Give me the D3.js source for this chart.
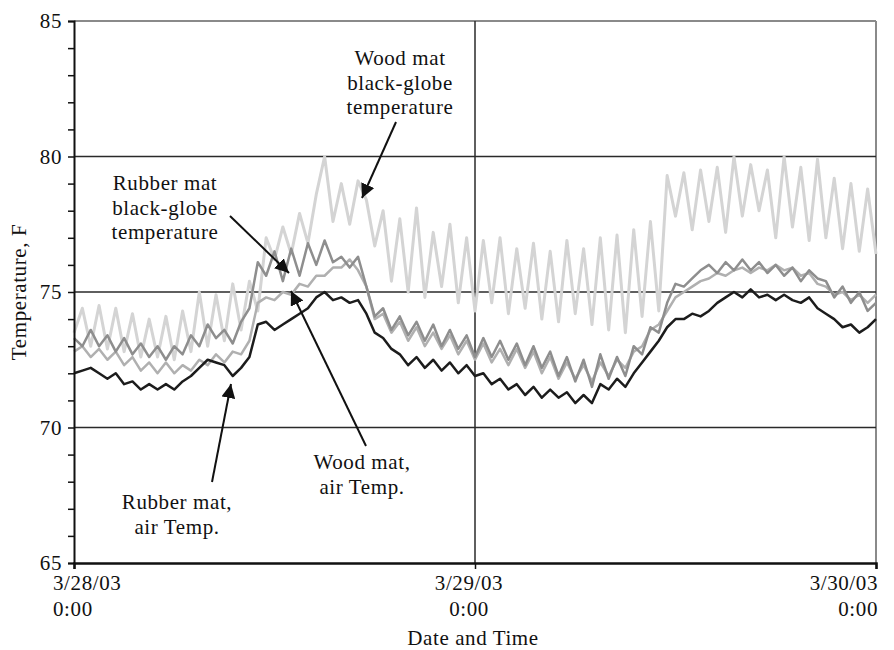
<!DOCTYPE html>
<html>
<head>
<meta charset="utf-8">
<script src="https://cdn.jsdelivr.net/npm/d3@7"></script>
<style>
  body { margin: 0; background: #fff; }
  text { font-family: "Liberation Serif", "DejaVu Serif", serif; fill: #111; letter-spacing: 0.6px; }
</style>
</head>
<body>
<svg id="chart" width="894" height="650"></svg>
<script>
// half-hourly readings, 3/28/03 0:00 to 3/30/03 0:00 (97 points each)
const woodGlobe = [73.5,74.4,73.0,74.5,72.9,74.4,72.8,74.2,72.6,74.0,72.6,74.1,72.5,74.3,72.8,75.0,73.0,74.9,73.2,75.3,
  73.6,75.4,74.3,77.0,76.2,77.4,76.4,77.9,76.8,78.6,80.0,77.6,79.0,77.5,79.1,78.4,76.7,78.0,75.4,77.7,
  75.0,78.1,74.8,77.2,75.2,77.5,74.6,77.0,74.3,76.9,74.6,77.0,74.2,76.6,74.4,76.8,74.0,76.5,73.9,76.9,
  74.2,76.6,73.8,77.0,73.6,77.1,73.5,77.3,74.1,77.6,74.3,79.3,77.8,79.4,77.3,79.5,77.6,79.6,77.2,80.0,
  77.8,79.7,78.0,79.5,77.0,80.0,77.4,79.6,76.9,79.9,77.0,79.2,76.6,79.0,76.5,78.8,76.4];
const woodAir = [72.8,73.0,72.6,72.9,72.5,72.8,72.3,72.6,72.1,72.4,72.0,72.4,72.0,72.3,72.1,72.5,72.3,72.7,72.4,72.8,
  72.7,73.2,74.6,74.8,74.7,75.0,74.9,75.3,75.2,75.6,75.6,75.9,75.9,76.2,75.8,75.2,74.0,74.2,73.5,73.9,
  73.2,73.7,73.0,73.5,72.9,73.4,72.7,73.2,72.5,73.1,72.4,72.9,72.3,72.9,72.2,72.8,72.0,72.6,71.8,72.4,
  71.8,72.3,71.7,72.4,71.9,72.5,72.2,72.8,73.0,73.6,73.8,74.3,74.8,75.0,75.2,75.4,75.5,75.7,75.6,75.8,
  75.9,75.7,75.9,75.8,76.0,75.8,75.9,75.6,75.7,75.3,75.2,74.9,75.0,74.7,74.9,74.6,74.9];
const rubberGlobe = [73.3,73.0,73.6,73.0,73.4,72.8,73.3,72.7,73.1,72.6,73.0,72.5,73.0,72.7,73.4,73.0,73.8,73.3,73.6,73.1,
  73.9,74.4,76.1,75.6,76.5,75.4,76.6,75.6,76.8,76.0,76.9,76.1,76.3,75.9,76.3,75.2,74.1,74.4,73.6,74.1,
  73.4,73.9,73.2,73.8,73.0,73.6,72.9,73.4,72.6,73.3,72.6,73.2,72.5,73.1,72.3,73.0,72.2,72.8,71.9,72.6,
  71.7,72.5,71.5,72.7,71.8,72.6,71.9,73.0,72.7,73.7,73.5,74.6,75.3,75.2,75.5,75.8,76.0,75.7,76.1,75.8,
  76.2,75.8,76.1,75.7,76.0,75.6,75.9,75.4,75.8,75.5,75.4,74.8,75.2,74.6,75.0,74.3,74.6];
const rubberAir = [72.0,72.1,72.2,72.0,71.8,72.0,71.6,71.7,71.4,71.6,71.4,71.6,71.4,71.7,71.9,72.2,72.5,72.4,72.3,71.9,
  72.2,72.6,73.8,73.9,73.6,73.8,74.0,74.2,74.4,74.8,75.0,74.7,74.8,74.6,74.7,74.2,73.5,73.3,72.9,72.7,
  72.3,72.6,72.2,72.5,72.1,72.4,72.0,72.3,71.9,72.0,71.6,71.8,71.4,71.6,71.2,71.5,71.1,71.4,71.1,71.3,
  70.9,71.2,70.9,71.6,71.4,71.8,71.5,72.0,72.4,72.8,73.2,73.7,74.0,74.0,74.2,74.1,74.3,74.6,74.8,75.0,
  74.8,75.1,74.8,74.9,74.7,74.9,74.7,74.6,74.8,74.4,74.2,74.0,73.7,73.8,73.5,73.7,74.0];

const yTicks = d3.range(65, 86, 1);
const yLabels = [65, 70, 75, 80, 85];
const yGrid = [70, 75, 80];
const xTicks = [new Date(2003, 2, 28), new Date(2003, 2, 29), new Date(2003, 2, 30)];
const xLabels = [["3/28/03", "0:00"], ["3/29/03", "0:00"], ["3/30/03", "0:00"]];

const series = [
  { values: woodGlobe, color: "#d4d4d4", width: 3 },
  { values: woodAir, color: "#b0b0b0", width: 2.5 },
  { values: rubberGlobe, color: "#8e8e8e", width: 2.5 },
  { values: rubberAir, color: "#1c1c1c", width: 2.5 }
];

const svg = d3.select("#chart"),
      margin = { top: 21, right: 18, bottom: 87, left: 74 },
      width = 894 - margin.left - margin.right,
      height = 650 - margin.top - margin.bottom;

const t0 = xTicks[0];
const timeAt = i => new Date(t0.getTime() + i * 30 * 60 * 1000);

const x = d3.scaleTime().domain([xTicks[0], xTicks[2]]).range([0, width]);
const y = d3.scaleLinear().domain([65, 85]).range([height, 0]);

const g = svg.append("g").attr("transform", `translate(${margin.left},${margin.top})`);

// frame (top + right) in grey
g.append("line").attr("x1", 0).attr("x2", width).attr("y1", 0).attr("y2", 0)
  .attr("stroke", "#8a8a8a").attr("stroke-width", 2);
g.append("line").attr("x1", width).attr("x2", width).attr("y1", 0).attr("y2", height)
  .attr("stroke", "#8a8a8a").attr("stroke-width", 2);

// grid
g.selectAll("line.hgrid").data(yGrid).join("line")
  .attr("x1", 0).attr("x2", width)
  .attr("y1", d => y(d)).attr("y2", d => y(d))
  .attr("stroke", "#2a2a2a").attr("stroke-width", 1.5);
g.append("line")
  .attr("x1", x(xTicks[1])).attr("x2", x(xTicks[1]))
  .attr("y1", 0).attr("y2", height)
  .attr("stroke", "#2a2a2a").attr("stroke-width", 1.5);

// series
const line = d3.line().x((d, i) => x(timeAt(i))).y(d => y(d));
series.forEach(s => {
  g.append("path")
    .datum(s.values)
    .attr("fill", "none")
    .attr("stroke", s.color)
    .attr("stroke-width", s.width)
    .attr("stroke-linejoin", "round")
    .attr("d", line);
});

// y axis
const yAxis = g.append("g")
  .call(d3.axisLeft(y).tickValues(yTicks).tickSize(6).tickPadding(6)
    .tickFormat(d => yLabels.includes(d) ? d : ""));
yAxis.select(".domain").attr("stroke", "#111").attr("stroke-width", 2);
yAxis.selectAll(".tick line").attr("stroke", "#111").attr("stroke-width", 1.5);
yAxis.selectAll(".tick text").attr("font-size", "21px").attr("font-family", "Liberation Serif");

// x axis
const xAxis = g.append("g")
  .attr("transform", `translate(0,${height})`)
  .call(d3.axisBottom(x).tickValues(xTicks).tickSize(6).tickFormat(""));
xAxis.select(".domain").attr("stroke", "#111").attr("stroke-width", 2.5);
xAxis.selectAll(".tick line").attr("stroke", "#111").attr("stroke-width", 1.5);

const anchors = ["start", "middle", "end"];
const shifts = [-21, -6, 2];
xTicks.forEach((d, i) => {
  xLabels[i].forEach((txt, j) => {
    g.append("text")
      .attr("x", x(d) + shifts[i])
      .attr("y", height + 27 + j * 26)
      .attr("text-anchor", anchors[i])
      .attr("font-size", "21px")
      .text(txt);
  });
});

// axis titles
g.append("text")
  .attr("x", x(xTicks[1]) - 2)
  .attr("y", height + 82)
  .attr("text-anchor", "middle")
  .attr("font-size", "21px")
  .text("Date and Time");

svg.append("text")
  .attr("transform", `translate(26,${margin.top + y(75)}) rotate(-90)`)
  .attr("text-anchor", "middle")
  .attr("font-size", "21px")
  .text("Temperature, F");

// annotations
svg.append("defs").append("marker")
  .attr("id", "arrow")
  .attr("viewBox", "0 0 10 10")
  .attr("refX", 10).attr("refY", 5)
  .attr("markerWidth", 7).attr("markerHeight", 7)
  .attr("markerUnits", "strokeWidth")
  .attr("orient", "auto")
  .append("path").attr("d", "M0,0 L10,5 L0,10 Z").attr("fill", "#111");

const notes = [
  { lines: ["Wood mat", "black-globe", "temperature"], tx: 400, ty: 65, from: [396, 122], to: [362, 198] },
  { lines: ["Rubber mat", "black-globe", "temperature"], tx: 165, ty: 190, from: [230, 216], to: [289, 273] },
  { lines: ["Wood mat,", "air Temp."], tx: 362, ty: 469, from: [366, 446], to: [291, 291] },
  { lines: ["Rubber mat,", "air Temp."], tx: 177, ty: 509, from: [212, 482], to: [231, 384] }
];

notes.forEach(n => {
  n.lines.forEach((txt, j) => {
    svg.append("text")
      .attr("x", n.tx).attr("y", n.ty + j * 24.5)
      .attr("text-anchor", "middle")
      .attr("font-size", "21px")
      .text(txt);
  });
  svg.append("line")
    .attr("x1", n.from[0]).attr("y1", n.from[1])
    .attr("x2", n.to[0]).attr("y2", n.to[1])
    .attr("stroke", "#111").attr("stroke-width", 2)
    .attr("marker-end", "url(#arrow)");
});
</script>
</body>
</html>
